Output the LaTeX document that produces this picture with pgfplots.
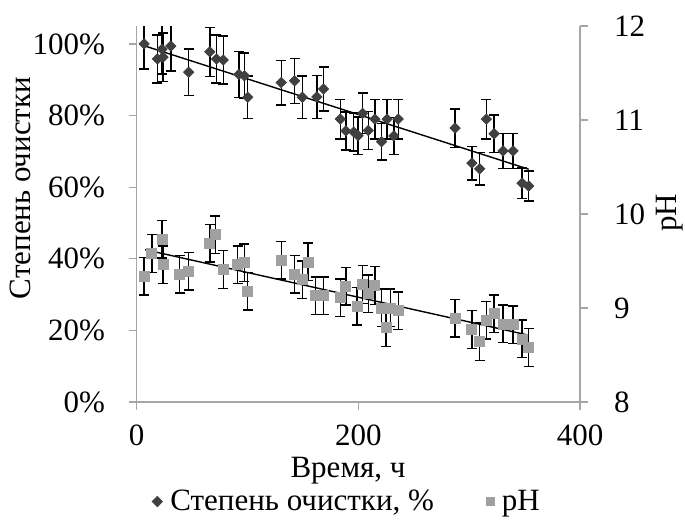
\documentclass[border=0pt]{standalone}
\usepackage{pgfplots}
\pgfplotsset{compat=1.18}
\usepackage{fontspec}
\setmainfont{Liberation Serif}
\definecolor{dgray}{HTML}{404040}
\definecolor{lgray}{HTML}{A0A0A0}
\definecolor{axgray}{HTML}{A6A6A6}
\begin{document}
\begin{tikzpicture}
\useasboundingbox (-68.35pt,-62.5pt) rectangle (274.2pt,201pt);
\pgfplotsset{
  every axis/.append style={
    font=\fontsize{15.5}{18}\selectfont,
    /pgf/number format/assume math mode=true,
    scale only axis, width=221.7pt, height=188pt,
    at={(0,0)}, anchor=south west,
    xmin=0, xmax=400,
    axis line style={axgray, line width=0.6pt},
    tick style={axgray, line width=0.6pt},
    tick align=outside, major tick length=4pt,
  },
}
\begin{axis}[
  axis y line*=left, axis x line*=bottom,
  ymin=0, ymax=105, ytick={0,20,40,60,80,100},
  yticklabel={\pgfmathprintnumber{\tick}\%},
  yticklabel style={xshift=-8.3pt},
  xtick={0,200,400},
  xticklabel style={inner sep=0pt, yshift=-7.5pt},
  xlabel={Время, ч},
  xlabel style={at={(axis description cs:0.4767,-0.184)}, anchor=center, inner sep=0pt},
  ylabel={Степень очистки},
  ylabel style={at={(axis description cs:-0.262,0.569)}, anchor=center},
  legend columns=2,
  legend style={draw=none, fill=none, inner sep=0pt, at={(0.4767,-0.265)}, anchor=center, font=\fontsize{15.5}{18}\selectfont,
    /tikz/every odd column/.append style={column sep=2pt},
    /tikz/every even column/.append style={column sep=24pt}},
  legend cell align=left,
]
\addplot+[only marks, mark=square*, mark size=1.8pt, mark options={rotate=45, fill=dgray, draw=dgray}, color=dgray,
  error bars/.cd, y dir=both, y fixed relative=0.07,
  error bar style={black, line width=0.7pt},
  error mark options={rotate=90, black, mark size=2.5pt, line width=0.7pt}]
coordinates {
(6.7,100.0) (18.7,95.8) (22.8,98.5) (23.8,96.3) (30.8,99.4) (46.9,92.1) (66.0,97.8) (72.0,95.8) (78.1,95.5) (92.2,91.5) (97.2,91.1) (100.2,85.1) (130.4,89.2) (142.5,89.7) (149.5,85.1) (162.6,85.2) (168.6,87.4) (183.7,79.0) (188.7,75.7) (195.8,75.4) (199.8,74.4) (203.8,80.6) (208.9,75.8) (214.9,79.0) (220.9,72.7) (226.0,79.0) (232.0,74.3) (236.0,79.0) (287.3,76.5) (302.4,66.7) (309.5,65.1) (315.5,79.0) (322.5,74.9) (330.6,70.1) (339.6,70.1) (347.7,61.1) (353.7,60.3)
};
\addlegendentry{Степень очистки, \%}
\addplot[black, line width=0.7pt, forget plot] coordinates {(7.6,99.4) (353.7,65.0)};
\addlegendimage{only marks, mark=square*, mark size=2pt, lgray}
\addlegendentry{pH}
\end{axis}
\begin{axis}[
  axis y line*=right, axis x line=none,
  ymin=8, ymax=12, ytick={8,9,10,11,12},
  yticklabel style={xshift=9.5pt},
  ylabel={pH},
  ylabel style={at={(axis description cs:1.203,0.503)}, anchor=center},
]
\addplot+[only marks, mark=square*, mark size=2.5pt, mark options={fill=lgray, draw=lgray}, color=lgray,
  error bars/.cd, y dir=both, y fixed=0.2,
  error bar style={black, line width=0.7pt},
  error mark options={rotate=90, black, mark size=2.5pt, line width=0.7pt}]
coordinates {
(6.7,9.34) (13.7,9.58) (22.8,9.73) (23.8,9.46) (38.8,9.36) (46.9,9.39) (66.0,9.69) (71.0,9.78) (78.1,9.41) (91.2,9.46) (97.2,9.48) (100.2,9.18) (130.4,9.51) (142.5,9.36) (149.5,9.30) (154.5,9.49) (161.6,9.13) (168.6,9.13) (183.7,9.11) (188.7,9.23) (198.8,9.02) (203.8,9.25) (208.9,9.15) (214.9,9.24) (220.9,9.00) (225.0,8.79) (229.0,9.00) (236.0,8.97) (287.3,8.89) (302.4,8.77) (309.5,8.64) (315.5,8.87) (322.5,8.94) (330.6,8.83) (339.6,8.82) (347.7,8.67) (353.7,8.58)
};
\addplot[black, line width=0.7pt] coordinates {(7.6,9.62) (353.7,8.71)};
\end{axis}
\end{tikzpicture}
\end{document}
